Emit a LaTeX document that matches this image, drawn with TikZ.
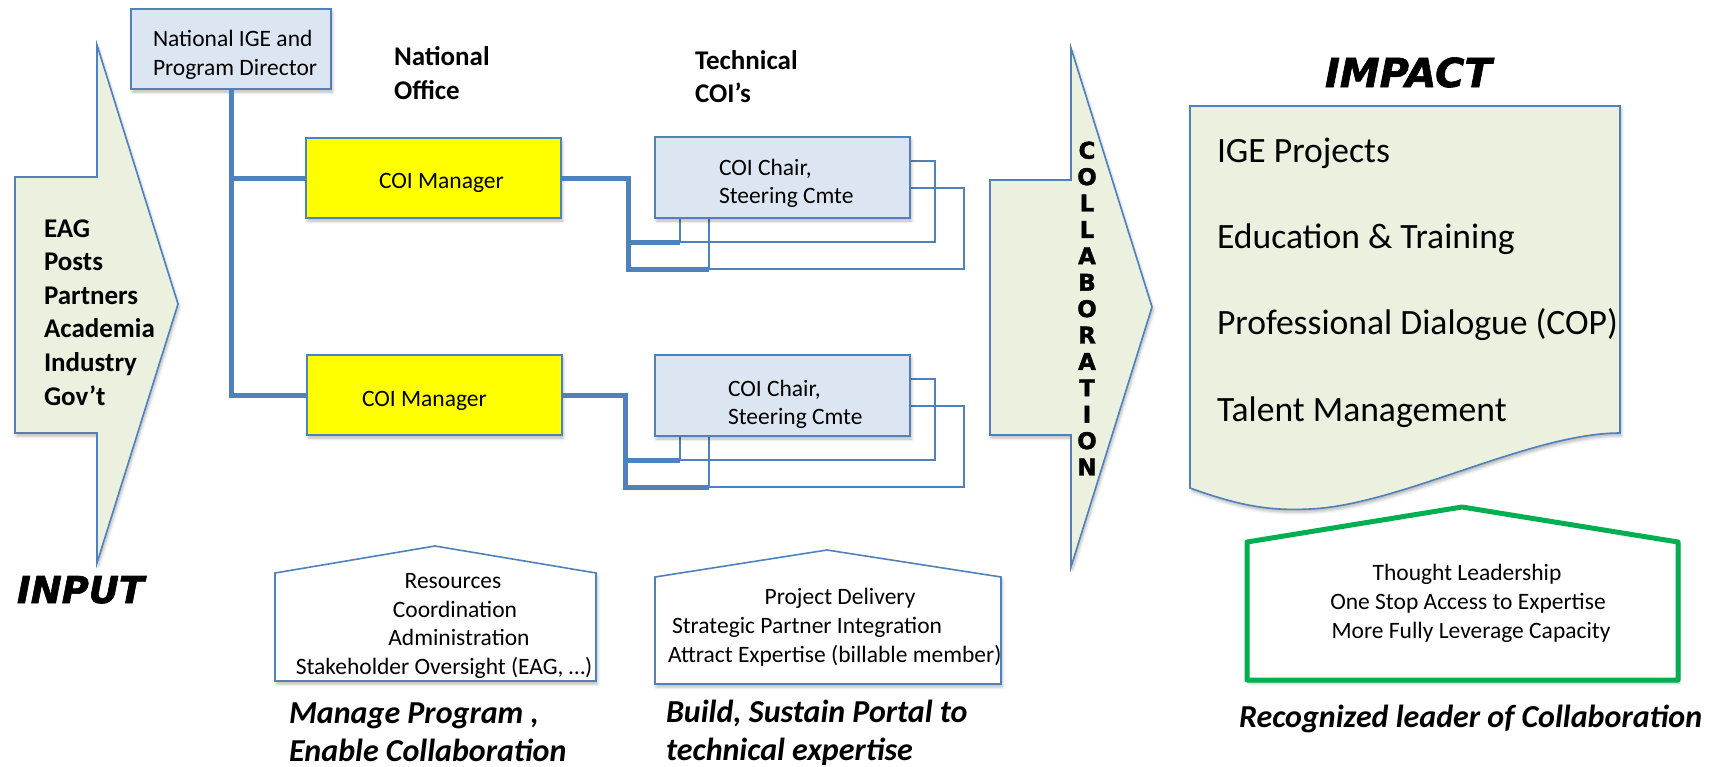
\documentclass[tikz,border=0pt]{standalone}
\usepackage{fontspec}
\usepackage{graphicx}
\setmainfont{Carlito}
\newfontfamily\heavyital{DejaVu Sans Bold Oblique}[FakeBold=1.6]
\newfontfamily\heavybold{DejaVu Sans Bold}[FakeBold=1.6]
\usetikzlibrary{calc,shadows.blur}
\definecolor{coiblue}{RGB}{79,129,189}
\definecolor{boxfill}{RGB}{220,230,242}
\definecolor{arrowfill}{RGB}{235,241,222}
\definecolor{leadgreen}{RGB}{0,176,80}
\definecolor{coiyellow}{RGB}{255,255,0}
\begin{document}
\begin{tikzpicture}[x=1pt,y=-1pt,
  every node/.style={inner sep=0pt,outer sep=0pt},
  softshadow/.style={blur shadow={shadow xshift=1.5pt,shadow yshift=-3pt,shadow blur radius=3pt,shadow opacity=28}},
  frontbox/.style={rectangle,draw=coiblue,line width=2pt,minimum width=255pt,minimum height=81pt,softshadow},
  backbox/.style={rectangle,draw=coiblue,line width=1.5pt,minimum width=255pt,minimum height=81pt},
  conn/.style={draw=coiblue,line width=5pt,line join=miter},
  outline/.style={draw=coiblue,line width=1.6pt,line join=miter},
  bodytxt/.style={font=\fontsize{23.5}{29}\selectfont,anchor=base west},
  bodyctr/.style={font=\fontsize{23.5}{29}\selectfont,anchor=base},
  headtxt/.style={font=\fontsize{27}{33}\selectfont\bfseries,anchor=base west},
  captxt/.style={font=\fontsize{32}{37}\selectfont\bfseries\itshape,anchor=base west},
  impacttxt/.style={font=\fontsize{35.6}{40}\selectfont,anchor=base west}
]
\useasboundingbox (0,0) rectangle (1711,766);

% ---- big arrows and document shape ----
\draw[outline,fill=arrowfill,softshadow] (15,177) -- (97,177) -- (97,45) -- (178,304) -- (97,563) -- (97,433) -- (15,433) -- cycle;
\draw[outline,fill=arrowfill,softshadow] (990,180) -- (1071,180) -- (1071,48) -- (1152,307) -- (1071,567) -- (1071,435) -- (990,435) -- cycle;
\draw[outline,fill=arrowfill,softshadow] (1190,106) -- (1620,106) -- (1620,433) .. controls (1530,433) and (1400,505) .. (1310,509) .. controls (1270,511) and (1240,506) .. (1190,488) -- cycle;

% ---- houses ----
\draw[outline,fill=white,softshadow] (275,681) -- (275,573) -- (435,546) -- (596,573) -- (596,681) -- cycle;
\draw[outline,fill=white,softshadow] (655,684) -- (655,577) -- (827,550) -- (1001,577) -- (1001,684) -- cycle;
\draw[draw=leadgreen,line width=5pt,line join=round,fill=white,softshadow] (1247,680) -- (1247,542) -- (1462,507) -- (1678,542) -- (1678,680) -- cycle;

% ---- back boxes ----
\node[backbox] (b1b) at (836.5,228.5) {};
\node[backbox] (b1a) at (807.5,201.5) {};
\node[backbox] (b2b) at (836.5,446.5) {};
\node[backbox] (b2a) at (807.5,419.5) {};

% ---- front boxes ----
\node[frontbox,fill=boxfill,minimum width=200pt,minimum height=80pt] (dir) at (231,49) {};
\node[frontbox,fill=coiyellow,minimum height=80pt] (mgr1) at (433.5,178) {};
\node[frontbox,fill=coiyellow,minimum height=80pt] (mgr2) at (434.5,395) {};
\node[frontbox,fill=boxfill] (chair1) at (782.5,177.5) {};
\node[frontbox,fill=boxfill] (chair2) at (782.5,395.5) {};

% ---- connectors ----
\draw[conn] (dir.south) |- (mgr1.west);
\draw[conn] (dir.south) |- (mgr2.west);
\coordinate (j1) at (628,178);
\coordinate (j2) at (625,395);
\draw[conn] (mgr1.east) -- (j1) |- (b1b.south west);
\draw[conn] (j1 |- b1a.south west) -- (b1a.south west);
\draw[conn] (mgr2.east) -- (j2) |- (b2b.south west);
\draw[conn] (j2 |- b2a.south west) -- (b2a.south west);

% ---- texts in boxes ----
\node[bodytxt] (dirt1) at (153,46) {National IGE and};
\node[bodytxt] (dirt2) at (153,75) {Program Director};
\node[bodytxt] (mgr1t) at (379,188) {COI Manager};
\node[bodytxt] (mgr2t) at (362,406) {COI Manager};
\node[bodytxt] (ch1t1) at (719,175) {COI Chair,};
\node[bodytxt] (ch1t2) at (719,203) {Steering Cmte};
\node[bodytxt] (ch2t1) at (728,396) {COI Chair,};
\node[bodytxt] (ch2t2) at (728,424) {Steering Cmte};

% ---- headings ----
\node[headtxt] (nat1) at (394,65) {National};
\node[headtxt] (nat2) at (394,99) {Office};
\node[headtxt] (tec1) at (695,69) {Technical};
\node[headtxt] (tec2) at (695,102) {COI’s};

% ---- input list ----
\node[headtxt] (in1) at (44,237) {EAG};
\node[headtxt] (in2) at (44,270) {Posts};
\node[headtxt] (in3) at (44,304) {Partners};
\node[headtxt] (in4) at (44,337) {Academia};
\node[headtxt] (in5) at (44,371) {Industry};
\node[headtxt] (in6) at (44,405) {Gov’t};

% ---- big labels ----
\node[anchor=base west,font=\heavyital\fontsize{37}{40}\selectfont] (inputlbl) at (17,603) {INPUT};
\node[anchor=base west,font=\heavyital\fontsize{40}{44}\selectfont] (impactlbl) at (1325,87) {IMPACT};
\node[align=center,font=\heavybold\fontsize{23}{26.4}\selectfont] (collab) at (1087,308.5) {C\\O\\L\\L\\A\\B\\O\\R\\A\\T\\I\\O\\N};

% ---- impact list ----
\node[impacttxt] (imp1) at (1217,162) {IGE Projects};
\node[impacttxt] (imp2) at (1217,248) {Education \& Training};
\node[impacttxt] (imp3) at (1217,334) {Professional Dialogue (COP)};
\node[impacttxt] (imp4) at (1217,421) {Talent Management};

% ---- house texts ----
\node[bodyctr] (h1a) at (453,588) {Resources};
\node[bodyctr] (h1b) at (455,617) {Coordination};
\node[bodyctr] (h1c) at (459,645) {Administration};
\node[bodyctr] (h1d) at (444,674) {Stakeholder Oversight (EAG, …)};
\node[bodyctr] (h2a) at (840,604) {Project Delivery};
\node[bodytxt] (h2b) at (672,633) {Strategic Partner Integration};
\node[bodytxt] (h2c) at (668,662) {Attract Expertise (billable member)};
\node[bodyctr] (h3a) at (1467,580) {Thought Leadership};
\node[bodyctr] (h3b) at (1468,609) {One Stop Access to Expertise};
\node[bodyctr] (h3c) at (1471,638) {More Fully Leverage Capacity};

% ---- captions ----
\node[captxt] (cap1a) at (289,723) {Manage Program ,};
\node[captxt] (cap1b) at (289,761) {Enable Collaboration};
\node[captxt] (cap2a) at (666,722) {Build, Sustain Portal to};
\node[captxt] (cap2b) at (666,760) {technical expertise};
\node[captxt] (cap3) at (1239,727) {Recognized leader of Collaboration};
\end{tikzpicture}
\end{document}
